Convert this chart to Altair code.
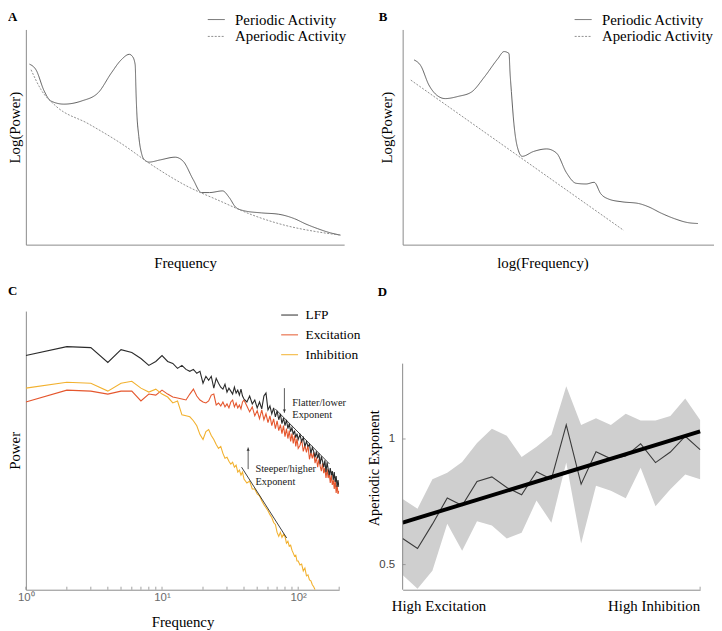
import altair as alt
import pandas as pd

SERIF = "Liberation Serif"
SANS = "Liberation Sans"
AXIS_GRAY = "#8a8a8a"

# ---------------- Panel A (linear frequency, arbitrary units) ----------------
a_periodic_x = [3.7, 10.3, 18.7, 25.3, 38.7, 57, 73.7, 87, 97, 105.3, 108.7, 111.3, 112, 112.7, 115, 118, 121,
                125.3, 137, 152, 160.3, 170.3, 178.7, 187, 200.3, 207, 213.7, 222, 240, 257, 273.7, 285, 297, 310, 320.3]
a_periodic_y = [183.7, 178, 156.3, 146.3, 143, 146.3, 154.7, 174.7, 188, 193.7, 191.3, 183, 160, 140, 110, 92, 86,
                84, 86.3, 89, 84.7, 66.3, 53, 53, 54.7, 48, 38, 34.5, 32.3, 31, 26.3, 21, 16.3, 12, 9.7]
a_aperiodic_x = [5.3, 15.3, 30.3, 63.7, 97, 130.3, 163.7, 197, 230.3, 263.7, 297, 320.3]
a_aperiodic_y = [178, 158, 141.3, 123, 103, 79.7, 59.7, 44.7, 30.3, 19.7, 13, 9.7]

# ---------------- Panel B (log frequency, arbitrary units) ----------------
b_periodic_x = [11.7, 18.3, 26.7, 35, 43.3, 56.7, 70, 83.3, 96.7, 103.3, 108.3, 109.3, 110.7, 113.3, 116.7, 121.7,
                133.3, 146.7, 156.7, 166.7, 176.7, 186.7, 195, 201.7, 210, 223.3, 240, 250, 263.3, 276.7, 290, 300.7]
b_periodic_y = [189.7, 184, 164, 153.3, 150, 152.3, 156.7, 172.3, 190.7, 198.3, 196.3, 177.3, 157.3, 124, 100.7, 90.7,
                95.7, 98.3, 94, 74, 63, 62.3, 64, 52.3, 46.7, 44, 42.3, 39, 32.3, 26.7, 22.7, 21.7]
b_aperiodic_x = [8.3, 225]
b_aperiodic_y = [169, 14.7]

kinds = ["Periodic Activity", "Aperiodic Activity"]

# ---------------- Panel C (power spectra) ----------------
freqs = [1, 2, 3, 4, 5, 6, 7, 8, 9, 10, 11, 12, 13, 14, 15, 16, 17, 18, 19, 20,
         21, 22, 23, 24, 25, 26, 27, 28, 29, 30, 31, 32, 33, 34, 35, 36, 37, 38, 39, 40,
         42, 44, 46, 48, 50, 52, 54, 56, 58, 60, 62, 64, 66, 68, 70, 72, 74, 76, 78, 80,
         82, 84, 86, 88, 90, 92, 94, 96, 98, 100,
         103, 106, 109, 112, 115, 118, 121, 124, 127, 130, 133, 136, 139, 142, 145, 148,
         151, 154, 157, 160, 163, 166, 169, 172, 175, 178, 181, 184, 187, 190, 193, 196, 199]
lfp = [237, 246, 245, 230, 243, 240, 234, 227, 231, 237, 231, 229, 224, 227, 223, 221, 223, 219, 221, 209,
       216, 212, 216, 204, 214, 209, 205, 203, 208, 200, 204, 201, 198, 205, 199, 202, 197, 203, 196, 193,
       190, 196, 188, 192, 184, 190, 183, 196, 199, 182, 186, 178, 184, 175, 181, 172, 178, 168, 174, 166,
       172, 163, 168, 160, 164, 157, 161, 154, 158, 152,
       157, 150, 154, 145, 150, 145, 147, 138, 144, 140, 134, 140, 133, 138, 127, 135,
       130, 124, 131, 119, 129, 122, 116, 123, 116, 120, 111, 119, 109, 115, 104, 111, 104]
excitation = [190, 202, 201, 198, 201, 201, 191, 198, 197, 202, 198, 195, 194, 193, 192, 198, 203, 196, 192, 190,
              189, 191, 197, 198, 187, 189, 186, 190, 185, 188, 184, 190, 192, 185, 189, 184, 187, 183, 190, 192,
              186, 180, 185, 176, 181, 173, 182, 172, 178, 169, 176, 166, 173, 163, 171, 161, 167, 158, 166, 155,
              163, 153, 161, 150, 158, 148, 156, 145, 153, 143,
              146, 152, 140, 146, 139, 146, 132, 139, 133, 139, 128, 134, 124, 132, 125, 120,
              128, 118, 123, 113, 122, 113, 118, 108, 116, 106, 111, 102, 111, 98, 106, 97, 100]
inhibition = [204, 210, 209, 201, 209, 211, 204, 200, 203, 198, 195, 189, 191, 177, 176, 175, 171, 166, 157, 152,
              160, 162, 156, 152, 147, 143, 145, 138, 133, 134, 130, 127, 129, 124, 126, 119, 121, 116, 119, 112,
              108, 110, 102, 102, 97, 95, 90, 86, 83, 80, 76, 73, 68, 66, 58, 54, 58, 53, 56, 54,
              47, 49, 44, 45, 40, 37, 34, 35, 29, 29,
              25, 26, 19, 22, 14, 15, 10, 9, 5, 3, 0, None, None, None, None, None,
              None, None, None, None, None, None, None, None, None, None, None, None, None, None, None, None, None]
series_names = ["LFP", "Excitation", "Inhibition"]
series_colors = ["#2b2b2b", "#E5572E", "#F2B12F"]

fit_f = [67.8, 169.7, 38.4, 82.3]
fit_h = [183, 127.3, 124, 52.3]
fit_grp = ["flat", "flat", "steep", "steep"]

note_text = ["Flatter/lower", "Exponent", "Steeper/higher", "Exponent"]
note_f = [90.5, 90.5, 48.5, 48.5]
note_h = [189, 176.3, 122.3, 109]

arrow_f = [79.2, 42.9]
arrow_from = [204, 122]
arrow_to = [179, 144]

tick_freqs = [1, 2, 3, 4, 5, 6, 7, 8, 9, 10, 20, 30, 40, 50, 60, 70, 80, 90, 100, 200]

# ---------------- Panel D (aperiodic exponent) ----------------
d_idx = list(range(1, 22))
d_mean = [0.604, 0.564, 0.661, 0.765, 0.735, 0.831, 0.849, 0.807, 0.778, 0.870, 0.840,
          1.056, 0.820, 0.949, 0.921, 0.932, 0.981, 0.906, 0.948, 1.011, 0.958]
d_upper = [0.761, 0.722, 0.840, 0.866, 0.908, 0.984, 1.041, 1.013, 0.928, 0.969, 1.017,
           1.210, 1.056, 1.083, 1.056, 1.100, 1.074, 1.074, 1.092, 1.161, 1.076]
d_lower = [0.459, 0.404, 0.475, 0.663, 0.555, 0.673, 0.656, 0.604, 0.627, 0.755, 0.667,
           0.906, 0.584, 0.814, 0.794, 0.764, 0.886, 0.732, 0.800, 0.859, 0.840]
d_fit_x = [1, 21]
d_fit_y = [0.667, 1.030]
d_axis_range = [0.4, 1.3]
d_end_labels = ["High Excitation", "High Inhibition"]

# ---------------- sizes ----------------
A_W, A_H = 321, 217
B_W, B_H = 314, 217
C_W, C_H = 316, 281
D_W = 300
D_AXIS_H = 228                      # drawn part of D's y axis
D_TOP_GAP = C_H - D_AXIS_H          # D's axis starts lower than C's
D_TOP = 1.3 + D_TOP_GAP * 0.9 / D_AXIS_H


def panel_label(letter, dx, dy):
    return alt.Chart(pd.DataFrame({"t": [letter]})).mark_text(
        font=SERIF, fontSize=13, fontWeight="bold", align="left", baseline="top", color="black"
    ).encode(x=alt.value(dx), y=alt.value(dy), text="t:N")


def kind_legend(lx, ly):
    return alt.Legend(title=None, orient="none", legendX=lx, legendY=ly, symbolType="stroke",
                      symbolSize=289, symbolStrokeWidth=1, labelFont=SERIF, labelFontSize=15,
                      labelColor="black", labelOffset=10, rowPadding=0, padding=0)


def schematic(px, py, ax, ay, xdom, ydom, w, h, xtitle, ytitle, ytitle_x, xtitle_x, lx, ly, letter, ldx):
    df = pd.concat([
        pd.DataFrame({"x": px, "y": py, "kind": kinds[0]}),
        pd.DataFrame({"x": ax, "y": ay, "kind": kinds[1]}),
    ])
    xaxis = alt.Axis(title=xtitle, labels=False, ticks=False, grid=False, domainColor=AXIS_GRAY,
                     titleFont=SERIF, titleFontSize=15, titleFontWeight="normal", titleColor="black",
                     titleX=xtitle_x, titleY=11, titleBaseline="top", titleAlign="center")
    yaxis = alt.Axis(title=ytitle, labels=False, ticks=False, grid=False, domainColor=AXIS_GRAY,
                     titleFont=SERIF, titleFontSize=15, titleFontWeight="normal", titleColor="black",
                     titleX=ytitle_x, titleY=h / 2 - 10, titleAngle=270, titleBaseline="bottom",
                     titleAlign="center")
    lines = alt.Chart(df).mark_line(interpolate="monotone", strokeWidth=1).encode(
        x=alt.X("x:Q", scale=alt.Scale(domain=xdom, nice=False, zero=False), axis=xaxis),
        y=alt.Y("y:Q", scale=alt.Scale(domain=ydom, nice=False, zero=False), axis=yaxis),
        color=alt.Color("kind:N", scale=alt.Scale(domain=kinds, range=["#5c5c5c", "#8f8f8f"]),
                        legend=kind_legend(lx, ly)),
        strokeDash=alt.StrokeDash("kind:N", scale=alt.Scale(domain=kinds, range=[[1, 0], [2, 1.5]]),
                                  legend=kind_legend(lx, ly)),
    )
    return alt.layer(lines, panel_label(letter, ldx, -19)).properties(width=w, height=h)


panel_a = schematic(a_periodic_x, a_periodic_y, a_aperiodic_x, a_aperiodic_y, [0, 324], [0, 219],
                    A_W, A_H, "Frequency", "Log(Power)", -3, A_W / 2, 183, -19, "A", -18)
panel_b = schematic(b_periodic_x, b_periodic_y, b_aperiodic_x, b_aperiodic_y, [0, 317], [0, 221],
                    B_W, B_H, "log(Frequency)", "Log(Power)", -8, 141, 173, -19, "B", -24)

# ---------------- Panel C ----------------
spec_frames = []
for name, vals in zip(series_names, [lfp, excitation, inhibition]):
    spec_frames.append(pd.DataFrame({"f": freqs, "h": vals, "series": name}))
spec_df = pd.concat(spec_frames).dropna()

cx = alt.X("f:Q", scale=alt.Scale(type="log", domain=[1, 200], nice=False),
           axis=alt.Axis(values=[1, 10, 100], grid=False, ticks=False, domainColor=AXIS_GRAY,
                         labelExpr="datum.value == 1 ? '10⁰' : (datum.value == 10 ? '10¹' : '10²')",
                         labelFont=SANS, labelFontSize=11.5, labelColor="#6a6a6a", labelPadding=2,
                         labelFlush=False, title="Frequency", titleFont=SERIF, titleFontSize=15,
                         titleFontWeight="normal", titleColor="black", titleY=25, titleBaseline="top"))
cy = alt.Y("h:Q", scale=alt.Scale(domain=[0, 282], nice=False, zero=False),
           axis=alt.Axis(labels=False, ticks=False, grid=False, domainColor=AXIS_GRAY, title="Power",
                         titleFont=SERIF, titleFontSize=15, titleFontWeight="normal", titleColor="black",
                         titleX=-3, titleAngle=270, titleBaseline="bottom", titleAlign="center"))
c_color = alt.Color("series:N", scale=alt.Scale(domain=series_names, range=series_colors),
                    legend=alt.Legend(title=None, orient="none", legendX=257, legendY=-5,
                                      symbolType="stroke", symbolSize=289, symbolStrokeWidth=1,
                                      labelFont=SERIF, labelFontSize=13.5, labelColor="black",
                                      labelOffset=7, rowPadding=4, padding=0))

spec_layers = []
for name in ["Excitation", "Inhibition", "LFP"]:
    spec_layers.append(
        alt.Chart(spec_df[spec_df.series == name]).mark_line(strokeWidth=1.1, clip=True).encode(
            x=cx, y=cy, color=c_color)
    )

fit_lines = alt.Chart(pd.DataFrame({"f": fit_f, "h": fit_h, "g": fit_grp})).mark_line(
    color="#111111", strokeWidth=0.8).encode(x="f:Q", y="h:Q", detail="g:N")
notes = alt.Chart(pd.DataFrame({"t": note_text, "f": note_f, "h": note_h})).mark_text(
    font=SERIF, fontSize=10.5, align="left", baseline="middle", color="#222222").encode(
    x="f:Q", y="h:Q", text="t:N")
arrow_shafts = alt.Chart(pd.DataFrame({"f": arrow_f, "h1": arrow_from, "h2": arrow_to})).mark_rule(
    color="#333333", strokeWidth=0.8).encode(x="f:Q", y="h1:Q", y2="h2:Q")
arrow_down = alt.Chart(pd.DataFrame({"f": [arrow_f[0]], "h": [arrow_to[0] + 2]})).mark_point(
    shape="triangle-down", filled=True, size=10, color="#333333", opacity=1).encode(x="f:Q", y="h:Q")
arrow_up = alt.Chart(pd.DataFrame({"f": [arrow_f[1]], "h": [arrow_to[1] - 2]})).mark_point(
    shape="triangle-up", filled=True, size=10, color="#333333", opacity=1).encode(x="f:Q", y="h:Q")
c_ticks = alt.Chart(pd.DataFrame({"f": tick_freqs})).mark_rule(color=AXIS_GRAY, strokeWidth=0.8).encode(
    x="f:Q", y=alt.value(C_H), y2=alt.value(C_H - 3))

panel_c = alt.layer(*spec_layers, fit_lines, notes, arrow_shafts, arrow_down, arrow_up, c_ticks,
                    panel_label("C", -18, -26)).properties(width=C_W, height=C_H)

# ---------------- Panel D ----------------
d_df = pd.DataFrame({"i": d_idx, "mean": d_mean, "lo": d_lower, "hi": d_upper})
dx = alt.X("i:Q", scale=alt.Scale(domain=[1, 21], nice=False, zero=False),
           axis=alt.Axis(labels=False, ticks=False, grid=False, domainColor=AXIS_GRAY, title=None))
dscale = alt.Scale(domain=[0.4, D_TOP], nice=False, zero=False)
dy_axis = alt.Axis(values=[0.5, 1], format="~g", ticks=False, grid=False, domain=False,
                   labelFont=SANS, labelFontSize=11.5, labelColor="#444444", labelPadding=8,
                   title="Aperiodic Exponent", titleFont=SERIF, titleFontSize=14.5, titleFontWeight="normal",
                   titleColor="black", titleX=-21, titleY=D_TOP_GAP + D_AXIS_H / 2 - 9, titleAngle=270,
                   titleBaseline="bottom", titleAlign="center")
band = alt.Chart(d_df).mark_area(color="#cfcfcf", opacity=1).encode(
    x=dx, y=alt.Y("lo:Q", scale=dscale, axis=dy_axis), y2="hi:Q")
mean_line = alt.Chart(d_df).mark_line(color="#3a3a3a", strokeWidth=1.1).encode(
    x="i:Q", y=alt.Y("mean:Q", scale=dscale))
fit_d = alt.Chart(pd.DataFrame({"i": d_fit_x, "v": d_fit_y})).mark_line(
    color="black", strokeWidth=4).encode(x="i:Q", y=alt.Y("v:Q", scale=dscale))
d_yaxis_line = alt.Chart(pd.DataFrame({"v0": [d_axis_range[0]], "v1": [d_axis_range[1]]})).mark_rule(
    color=AXIS_GRAY, strokeWidth=1).encode(y=alt.Y("v0:Q", scale=dscale), y2="v1:Q", x=alt.value(0))
d_yticks = alt.Chart(pd.DataFrame({"v": [0.5, 1]})).mark_rule(color=AXIS_GRAY, strokeWidth=0.8).encode(
    y=alt.Y("v:Q", scale=dscale), x=alt.value(0), x2=alt.value(3))
d_xtick = alt.Chart(pd.DataFrame({"i": [21]})).mark_rule(color=AXIS_GRAY, strokeWidth=0.8).encode(
    x="i:Q", y=alt.value(C_H), y2=alt.value(C_H - 3))
d_lab_left = alt.Chart(pd.DataFrame({"i": [1], "t": [d_end_labels[0]]})).mark_text(
    font=SERIF, fontSize=15, align="left", baseline="middle", color="black", dx=-11).encode(
    x="i:Q", y=alt.value(C_H + 16), text="t:N")
d_lab_right = alt.Chart(pd.DataFrame({"i": [21], "t": [d_end_labels[1]]})).mark_text(
    font=SERIF, fontSize=15, align="right", baseline="middle", color="black", dx=0).encode(
    x="i:Q", y=alt.value(C_H + 16), text="t:N")

panel_d = alt.layer(band, mean_line, fit_d, d_yaxis_line, d_yticks, d_xtick, d_lab_left, d_lab_right,
                    panel_label("D", -25, -25)).properties(width=D_W, height=C_H)

# ---------------- layout ----------------
chart = alt.concat(panel_a, panel_b, panel_c, panel_d, columns=2, bounds="flush",
                   spacing={"row": 67, "column": 59}).resolve_scale(
    x="independent", y="independent", color="independent", strokeDash="independent"
).configure_view(strokeWidth=0).properties(padding=0)

chart.save("out.html", embed_options={"renderer": "svg", "actions": False})
